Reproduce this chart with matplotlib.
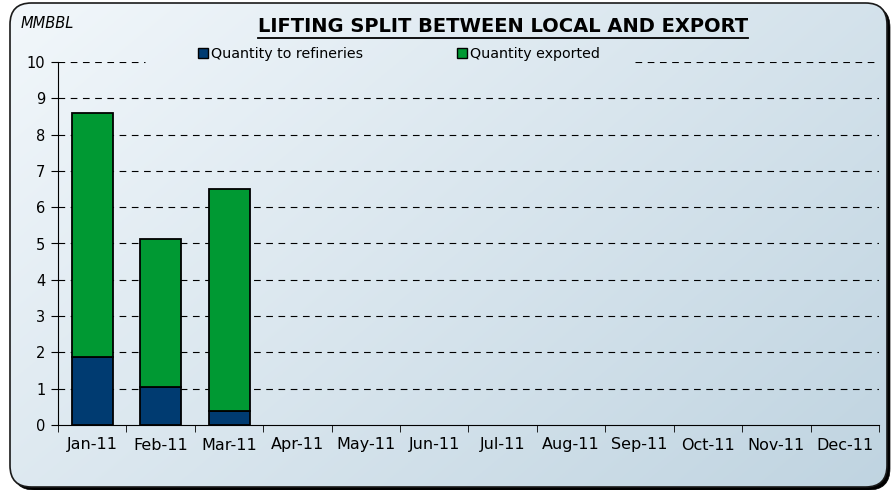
import matplotlib.pyplot as plt
import numpy as np
from matplotlib.patches import FancyBboxPatch, Patch

# -----------------------
# Data
# -----------------------
months = ["Jan-11", "Feb-11", "Mar-11", "Apr-11", "May-11", "Jun-11",
          "Jul-11", "Aug-11", "Sep-11", "Oct-11", "Nov-11", "Dec-11"]
refineries = [1.87, 1.05, 0.38]
exported = [6.73, 4.07, 6.11]

c_ref = "#003b71"
c_exp = "#009933"

W, H = 893, 490
fig = plt.figure(figsize=(W / 100, H / 100), dpi=100)

# -----------------------
# Rounded gradient panel with drop shadow
# -----------------------
bg = fig.add_axes([0, 0, 1, 1], zorder=-10)
bg.set_axis_off()
bg.set_xlim(0, 1)
bg.set_ylim(0, 1)
yy, xx = np.mgrid[0:1:200j, 0:1:300j]
t = xx * 0.6 + yy * 0.4
c0 = np.array([0.95, 0.97, 0.985])
c1 = np.array([0.75, 0.83, 0.88])
img = c0[None, None, :] * (1 - t[..., None]) + c1[None, None, :] * t[..., None]

box = (10 / W, 3 / H, 877 / W, 484 / H)
style = "round,pad=0,rounding_size=0.024"
shadow = FancyBboxPatch((box[0] + 3 / W, box[1] - 3 / H), box[2], box[3],
                        boxstyle=style, transform=bg.transAxes, facecolor="black",
                        edgecolor="black", linewidth=0.5, mutation_aspect=W / H,
                        zorder=-1)
bg.add_patch(shadow)
panel = FancyBboxPatch(box[:2], box[2], box[3], boxstyle=style,
                       transform=bg.transAxes, facecolor="none",
                       edgecolor="#1a1a1a", linewidth=1.2, mutation_aspect=W / H,
                       zorder=1)
bg.add_patch(panel)
im = bg.imshow(img, extent=[0, 1, 0, 1], aspect="auto", origin="upper", zorder=0)
im.set_clip_path(panel)

# -----------------------
# Plot
# -----------------------
ax = fig.add_axes([58 / W, 1 - 425 / H, (879 - 58) / W, (425 - 62) / H])
ax.patch.set_alpha(0)

x = np.arange(len(months))
n = len(refineries)
ax.bar(x[:n], refineries, 0.6, color=c_ref, edgecolor="black", linewidth=1.3, zorder=3)
ax.bar(x[:n], exported, 0.6, bottom=refineries, color=c_exp, edgecolor="black",
       linewidth=1.3, zorder=3)

ax.set_xlim(-0.5, 11.5)
ax.set_ylim(0, 10)
ax.set_yticks(range(0, 11))
ax.set_xticks(x)
ax.set_xticklabels(months, fontsize=11.5)
ax.set_xticks(np.arange(-0.5, 12, 1), minor=True)
ax.tick_params(axis="x", which="major", length=0, pad=9)
ax.tick_params(axis="x", which="minor", length=5, direction="out")
ax.tick_params(axis="y", length=5, direction="out", labelsize=10.5, pad=4)
for s in ["top", "right"]:
    ax.spines[s].set_visible(False)

# dashed gridlines (top one interrupted by the legend)
dash = (0, (6, 5))
for v in range(1, 10):
    ax.axhline(v, color="black", linestyle=dash, linewidth=0.8, zorder=1)
ax.axhline(10, xmin=0, xmax=(145 - 58) / 821, color="black", linestyle=dash,
           linewidth=0.8, zorder=1)
ax.axhline(10, xmin=(635 - 58) / 821, xmax=1, color="black", linestyle=dash,
           linewidth=0.8, zorder=1)

# -----------------------
# Text
# -----------------------
fig.text(503 / W, 1 - 27 / H, "LIFTING SPLIT BETWEEN LOCAL AND EXPORT",
         ha="center", va="center", fontsize=14, fontweight="bold")
ax.plot([258 / W, 748 / W], [1 - 38 / H, 1 - 38 / H], transform=fig.transFigure,
        color="black", linewidth=1.3, clip_on=False)
fig.text(21 / W, 1 - 24 / H, "MMBBL", ha="left", va="center", fontsize=10.5,
         style="italic")

handles = [Patch(facecolor=c_ref, edgecolor="black"),
           Patch(facecolor=c_exp, edgecolor="black")]
fig.legend(handles, ["Quantity to refineries", "Quantity exported"],
           loc="center left", bbox_to_anchor=(188 / W, 1 - 54 / H), ncol=2,
           fontsize=10.3, handlelength=0.7, handleheight=0.7, handletextpad=0.2,
           columnspacing=6.6, frameon=False, borderpad=0.2)

fig.savefig("out.png", dpi=100)
